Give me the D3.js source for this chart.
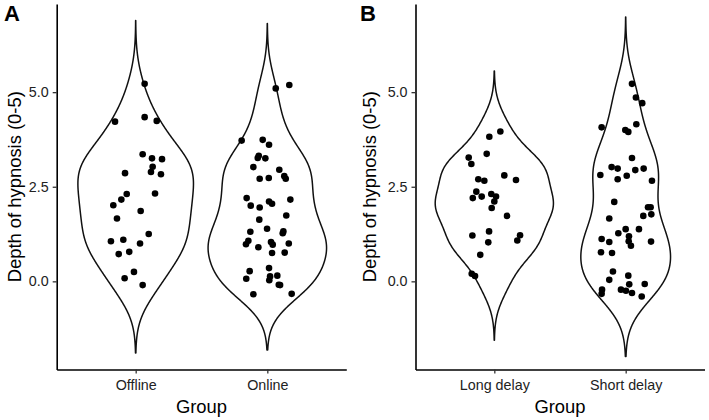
<!DOCTYPE html>
<html><head><meta charset="utf-8">
<script src="https://cdn.jsdelivr.net/npm/d3@7"></script>
<style>
body{margin:0;background:#fff}
svg{display:block}
text{font-family:"Liberation Sans",Arial,Helvetica,sans-serif}
</style>
</head><body>
<svg id="chart" width="709" height="420"></svg>
<script>
// ---------- data ----------
const categoriesA = ["Offline", "Online"];
const categoriesB = ["Long delay", "Short delay"];
const yTicks = [0, 2.5, 5];
const yLimits = [-2.33, 7.33];
const yTitle = "Depth of hypnosis (0-5)";
const xTitle = "Group";
const panelLabels = ["A", "B"];

// jittered points: [horizontal jitter (category units), depth of hypnosis]
const offlinePoints = [
  [0.068,5.22],[-0.157,4.22],[0.068,4.34],[0.160,4.24],[0.053,3.36],[0.124,3.25],[0.200,3.23],
  [0.129,3.03],[0.116,2.89],[0.192,2.83],[-0.081,2.86],[-0.068,2.31],[-0.109,2.16],[-0.170,2.01],
  [0.147,2.32],[0.038,1.86],[-0.142,1.66],[0.099,1.25],[-0.188,1.06],[-0.094,1.10],[0.033,1.00],
  [-0.049,0.78],[-0.129,0.72],[-0.013,0.25],[-0.084,0.08],[0.053,-0.10]
];
const onlinePoints = [
  [0.167,5.19],[0.064,5.10],[-0.195,3.72],[-0.035,3.74],[0.013,3.61],[-0.065,3.32],[-0.073,3.26],
  [-0.015,3.25],[-0.106,3.02],[0.091,2.95],[0.129,2.78],[0.140,2.71],[-0.058,2.71],[0.011,2.73],
  [-0.157,2.20],[-0.126,2.00],[-0.058,1.95],[0.013,2.11],[0.036,2.05],[0.175,2.16],[-0.061,1.63],
  [0.144,1.74],[-0.129,1.31],[-0.002,1.39],[0.122,1.32],[0.117,1.27],[-0.144,1.07],[-0.162,0.98],
  [-0.068,0.90],[0.028,1.04],[0.041,0.97],[0.036,0.75],[0.132,0.76],[0.163,1.00],[-0.134,0.27],
  [-0.160,0.07],[0.013,0.35],[0.021,0.13],[0.015,0.03],[0.076,0.15],[0.087,-0.09],[0.097,-0.10],
  [-0.106,-0.34],[0.185,-0.33]
];
const longDelayPoints = [
  [0.046,3.96],[-0.038,3.82],[-0.058,3.37],[-0.195,3.27],[-0.175,3.10],[-0.122,2.70],[-0.076,2.66],
  [0.076,2.80],[0.165,2.68],[-0.137,2.37],[-0.164,2.20],[-0.096,2.24],[-0.023,2.31],[0.013,2.24],
  [0.000,2.11],[-0.020,1.94],[0.097,1.73],[-0.040,1.32],[-0.167,1.21],[-0.046,1.03],[0.196,1.22],
  [0.175,1.08],[-0.107,0.70],[-0.172,0.20],[-0.147,0.14]
];
const shortDelayPoints = [
  [0.048,5.22],[0.078,4.86],[0.126,4.71],[-0.183,4.07],[-0.003,4.00],[0.020,3.95],[0.081,4.15],
  [0.048,3.26],[-0.193,2.81],[-0.107,3.02],[-0.061,2.98],[-0.061,2.70],[0.008,2.79],[0.073,2.94],
  [0.137,2.98],[0.200,2.66],[-0.087,2.10],[-0.125,1.66],[0.170,1.96],[0.190,1.96],[0.134,1.73],
  [0.195,1.77],[-0.183,1.12],[-0.125,1.04],[-0.056,1.27],[0.000,1.38],[0.025,1.19],[0.023,1.06],
  [0.040,0.94],[0.101,1.38],[0.193,1.05],[-0.188,0.77],[-0.104,0.75],[-0.097,0.26],[-0.125,0.04],
  [0.020,0.15],[-0.180,-0.22],[-0.183,-0.33],[-0.036,-0.22],[0.002,-0.25],[0.048,-0.31],[0.027,-0.08],
  [0.145,-0.07],[0.122,-0.40]
];

// ---------- helpers ----------
const svg = d3.select("#chart");
const FONT = '"Liberation Sans",Arial,Helvetica,sans-serif';

function bwNrd0(x) {
  const s = x.slice().sort(d3.ascending);
  const sd = d3.deviation(s);
  const iqr = d3.quantileSorted(s, 0.75) - d3.quantileSorted(s, 0.25);
  const lo = Math.min(sd, iqr / 1.34);
  return 0.9 * lo * Math.pow(s.length, -0.2);
}
function kde(values) {
  const bw = bwNrd0(values);
  const lo = d3.min(values) - 3 * bw, hi = d3.max(values) + 3 * bw;
  const n = 512, out = [];
  for (let i = 0; i < n; i++) {
    const y = lo + (hi - lo) * i / (n - 1);
    let s = 0;
    for (const v of values) { const u = (y - v) / bw; s += Math.exp(-0.5 * u * u); }
    out.push({ y, d: s / (values.length * bw * Math.sqrt(2 * Math.PI)) });
  }
  return out;
}

function drawPanel(opts) {
  const { cats, groups, xRange, yRange, label, labelX, titleX, tickEnd } = opts;
  const g = svg.append("g");
  const x = d3.scalePoint().domain(cats).range(xRange).padding(0.6);
  const y = d3.scaleLinear().domain(yLimits).range(yRange);
  const step = x.step();

  // violins (density of the underlying ratings)
  const dens = groups.map(pts => kde(pts.map(p => Math.round(p[1]))));
  const maxD = d3.max(dens, ds => d3.max(ds, e => e.d));
  const line = d3.line().x(e => e[0]).y(e => e[1]);
  dens.forEach((ds, i) => {
    const cx = x(cats[i]);
    const right = ds.map(e => [cx + e.d / maxD * 0.45 * step, y(e.y)]);
    const left = ds.slice().reverse().map(e => [cx - e.d / maxD * 0.45 * step, y(e.y)]);
    g.append("path").attr("d", line(right.concat(left)) + "Z")
      .attr("fill", "#fff").attr("stroke", "#111").attr("stroke-width", 1.5)
      .attr("stroke-linejoin", "round");
  });

  // points
  groups.forEach((pts, i) => {
    const cx = x(cats[i]);
    g.append("g").selectAll("circle").data(pts).join("circle")
      .attr("cx", p => cx + p[0] * step).attr("cy", p => y(p[1]))
      .attr("r", 3.3).attr("fill", "#000");
  });

  // axes
  const ya = g.append("g").attr("transform", `translate(${xRange[0]},0)`)
    .call(d3.axisLeft(y).tickValues(yTicks).tickFormat(d3.format(".1f")).tickSize(4).tickPadding(4).tickSizeOuter(0));
  const xa = g.append("g").attr("transform", `translate(0,${yRange[0]})`)
    .call(d3.axisBottom(x).tickSize(4).tickPadding(5).tickSizeOuter(0));
  [ya, xa].forEach(a => {
    a.select(".domain").attr("stroke", "#000").attr("stroke-width", 1.6);
    a.selectAll(".tick line").attr("stroke", "#333").attr("stroke-width", 1.3);
    a.selectAll(".tick text").attr("fill", "#222").style("font-family", FONT).style("font-size", "14.3px");
  });
  xa.selectAll(".tick text").attr("dy", "0.71em").attr("y", 10);

  // titles
  g.append("text").attr("x", (xRange[0] + xRange[1]) / 2).attr("y", 413)
    .attr("text-anchor", "middle").style("font-size", "18.4px").attr("fill", "#000").text(xTitle);
  g.append("text").attr("transform", `translate(${titleX},${(yRange[0] + yRange[1]) / 2}) rotate(-90)`)
    .attr("text-anchor", "middle").style("font-size", "18.4px").attr("fill", "#000").text(yTitle);
  g.append("text").attr("x", labelX).attr("y", 21.3).style("font-size", "22px")
    .style("font-weight", "bold").attr("fill", "#000").text(label);
}

drawPanel({ cats: categoriesA, groups: [offlinePoints, onlinePoints],
  xRange: [56.7, 346.3], yRange: [369.5, 4], label: panelLabels[0], labelX: 4, titleX: 20.7 });
drawPanel({ cats: categoriesB, groups: [longDelayPoints, shortDelayPoints],
  xRange: [415.5, 704.5], yRange: [369.5, 4], label: panelLabels[1], labelX: 360, titleX: 375.7 });
</script>
</body></html>
